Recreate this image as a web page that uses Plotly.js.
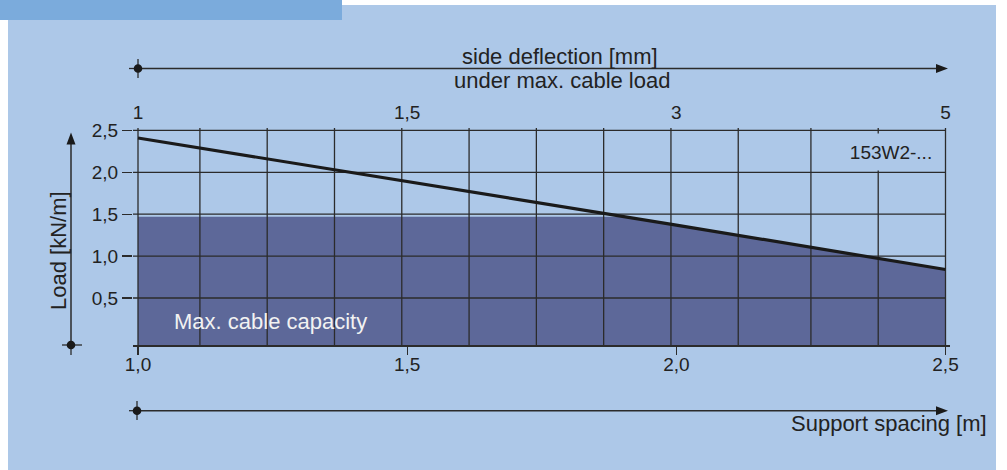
<!DOCTYPE html>
<html>
<head>
<meta charset="utf-8">
<script src="https://cdn.plot.ly/plotly-3.0.1.min.js"></script>
<style>
html,body{margin:0;padding:0;background:#fff;}
#chart{width:1007px;height:470px;}
</style>
</head>
<body>
<div id="chart"></div>
<script>
// ---- data ----
const spacing = [1.0, 1.5, 2.0, 2.5];            // support spacing [m]
const load = [2.41, 1.89, 1.37, 0.84];           // 153W2-... load curve [kN/m]
const capacity = 1.47;                           // max. cable capacity [kN/m]
const spacingTickVals = [1.0, 1.5, 2.0, 2.5];
const spacingTickText = ['1,0', '1,5', '2,0', '2,5'];
const deflectionTickText = ['1', '1,5', '3', '5'];   // side deflection [mm] at those spacings
const loadTickVals = [0.5, 1.0, 1.5, 2.0, 2.5];
const loadTickText = ['0,5', '1,0', '1,5', '2,0', '2,5'];
const gridSpacing = [1.0, 1.115, 1.24, 1.365, 1.49, 1.615, 1.74, 1.865, 1.99, 2.115, 2.25, 2.375, 2.5];
const seriesName = '153W2-...';

// ---- layout geometry (pixels) ----
const W = 1007, H = 470;
const L = 133, R = 950, T = 128, B = 345;
const xPx0 = 138, xPx1 = 945.5;   // pixel of spacing 1.0 and 2.5
const xs = (xPx1 - xPx0) / 1.5;
const xRange = [1.0 - (xPx0 - L) / xs, 2.5 + (R - xPx1) / xs];
const yRange = [-0.061, 2.529];

const px = v => (v - L) / (R - L);
const py = v => (B - v) / (B - T);

const LIGHT = '#adc8e8', TAB = '#7babdc', FILL = '#5d6899', INK = '#2b2b2b', TXT = '#222222';
const FONT = 'Liberation Sans, Arial, Helvetica, sans-serif';

// ---- capped fill polygon computed from the data ----
function cappedCurve(x, y, cap) {
  const ox = [], oy = [];
  for (let i = 0; i < x.length; i++) {
    ox.push(x[i]); oy.push(Math.min(y[i], cap));
    if (i < x.length - 1) {
      const a = y[i] - cap, b = y[i + 1] - cap;
      if (a * b < 0) {
        const t = a / (a - b);
        ox.push(x[i] + t * (x[i + 1] - x[i])); oy.push(cap);
      }
    }
  }
  return [ox, oy];
}
const [cx, cy] = cappedCurve(spacing, load, capacity);
const fillX = [cx[0]].concat(cx, [cx[cx.length - 1], cx[0]]);
const fillY = [yRange[0]].concat(cy, [yRange[0], yRange[0]]);

// gridline traces
const hgX = [], hgY = [];
loadTickVals.forEach(v => { hgX.push(xRange[0], spacing[spacing.length - 1], null); hgY.push(v, v, null); });
const vgX = [], vgY = [];
gridSpacing.forEach(v => { vgX.push(v, v, null); vgY.push(yRange[0], yRange[1], null); });

const traces = [
  {x: fillX, y: fillY, type: 'scatter', mode: 'lines', fill: 'toself', fillcolor: FILL,
   line: {width: 0, color: FILL}, hoverinfo: 'skip', showlegend: false},
  {x: hgX, y: hgY, type: 'scatter', mode: 'lines', line: {width: 1.3, color: INK},
   hoverinfo: 'skip', showlegend: false},
  {x: vgX, y: vgY, type: 'scatter', mode: 'lines', line: {width: 1.3, color: INK},
   hoverinfo: 'skip', showlegend: false},
  {x: spacing, y: load, type: 'scatter', mode: 'lines', name: seriesName,
   line: {width: 3.2, color: '#1a1a1a'}, hoverinfo: 'skip', showlegend: false},
  {x: spacing, y: load, type: 'scatter', mode: 'lines', xaxis: 'x2',
   line: {width: 0, color: 'rgba(0,0,0,0)'}, hoverinfo: 'skip', showlegend: false}
];

// ---- decorative shapes (paper coords from pixels) ----
const shapes = [];
function rect(x0, y0, x1, y1, color) {
  shapes.push({type: 'rect', xref: 'paper', yref: 'paper', layer: 'below',
    x0: px(x0), x1: px(x1), y0: py(y0), y1: py(y1), fillcolor: color, line: {width: 0}});
}
function seg(x0, y0, x1, y1, w) {
  shapes.push({type: 'line', xref: 'paper', yref: 'paper',
    x0: px(x0), x1: px(x1), y0: py(y0), y1: py(y1), line: {color: INK, width: w || 1.5}});
}
function tri(pts) {
  const d = 'M' + pts.map(p => px(p[0]) + ',' + py(p[1])).join(' L') + ' Z';
  shapes.push({type: 'path', xref: 'paper', yref: 'paper', path: d, fillcolor: '#1a1a1a', line: {width: 0}});
}
function dot(cxp, cyp, r) {
  shapes.push({type: 'circle', xref: 'paper', yref: 'paper',
    x0: px(cxp - r), x1: px(cxp + r), y0: py(cyp + r), y1: py(cyp - r), fillcolor: '#1a1a1a', line: {width: 0}});
}
rect(8, 5, 996, 470, LIGHT);
rect(0, 0, 342, 20, TAB);

// top arrow
seg(138, 68.5, 938, 68.5); tri([[948, 68.5], [936, 64], [936, 73]]);
seg(138, 59, 138, 78, 1.3); seg(129, 68.5, 138, 68.5, 1.3); dot(138, 68.5, 4.3);
// bottom arrow
seg(137, 410.7, 938, 410.7); tri([[948, 410.7], [936, 406.2], [936, 415.2]]);
seg(137, 401, 137, 420, 1.3); seg(129, 410.7, 137, 410.7, 1.3); dot(137, 410.7, 4.3);
// left arrow
seg(71, 345, 71, 142); tri([[71, 132.5], [66.5, 144.5], [75.5, 144.5]]);
seg(62, 345, 82, 345, 1.3); seg(71, 345, 71, 355, 1.3); dot(71, 345, 4.3);

// ---- annotations ----
function ann(text, x, y, opts) {
  return Object.assign({text: text, xref: 'paper', yref: 'paper', x: px(x), y: py(y),
    showarrow: false, xanchor: 'center', yanchor: 'middle',
    font: {family: FONT, size: 22, color: TXT}}, opts || {});
}
const annotations = [
  ann('side deflection [mm]', 560, 56),
  ann('under max. cable load', 562, 80),
  ann('Support spacing [m]', 989, 424, {xanchor: 'right'}),
  ann('Load [kN/m]', 58, 251, {textangle: -90}),
  ann('Max. cable capacity', 172, 321, {xanchor: 'left', font: {family: FONT, size: 22, color: '#f2f2f2'}}),
  ann(seriesName, 891, 151.5, {bgcolor: LIGHT, width: 88, height: 36, borderpad: 0,
    font: {family: FONT, size: 19, color: TXT}})
];

const layout = {
  width: W, height: H,
  margin: {l: L, r: W - R, t: T, b: H - B, pad: 0},
  paper_bgcolor: '#ffffff', plot_bgcolor: 'rgba(0,0,0,0)',
  showlegend: false, hovermode: false,
  font: {family: FONT, size: 19, color: TXT},
  xaxis: {range: xRange, tickmode: 'array', tickvals: spacingTickVals, ticktext: spacingTickText,
    ticks: 'outside', ticklen: 8, tickwidth: 1.3, tickcolor: INK, ticklabelstandoff: -7,
    showline: true, linecolor: INK, linewidth: 2, showgrid: false, zeroline: false,
    tickfont: {family: FONT, size: 19, color: TXT}},
  xaxis2: {range: xRange, overlaying: 'x', side: 'top', tickmode: 'array',
    tickvals: spacingTickVals, ticktext: deflectionTickText, ticks: '', ticklabelstandoff: 4,
    showline: false, showgrid: false, zeroline: false,
    tickfont: {family: FONT, size: 19, color: TXT}},
  yaxis: {range: yRange, tickmode: 'array', tickvals: loadTickVals, ticktext: loadTickText,
    ticks: 'outside', ticklen: 10, tickwidth: 1.3, tickcolor: INK,
    showline: false, showgrid: false, zeroline: false,
    tickfont: {family: FONT, size: 19, color: TXT}},
  shapes: shapes,
  annotations: annotations
};

Plotly.newPlot('chart', traces, layout, {staticPlot: true, displayModeBar: false});
</script>
</body>
</html>
